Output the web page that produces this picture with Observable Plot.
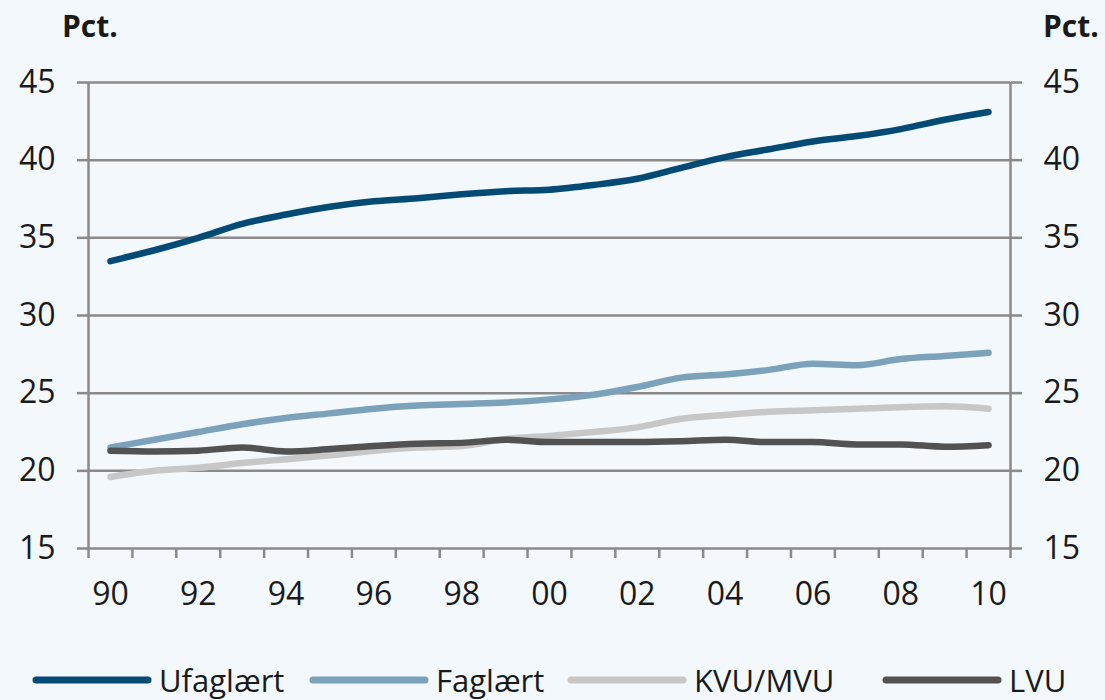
<!DOCTYPE html>
<html>
<head>
<meta charset="utf-8">
<script src="https://cdn.jsdelivr.net/npm/d3@7"></script>
<script src="https://cdn.jsdelivr.net/npm/@observablehq/plot@0.6"></script>
<style>
  html, body { margin: 0; padding: 0; background: #F3F8FD; }
  #wrap { position: relative; width: 1105px; height: 700px; overflow: hidden; font-family: "Open Sans", sans-serif; color: #1a1a1a; }
  #chart { position: absolute; left: 0; top: 0; }
  .pct { position: absolute; top: 6px; font-weight: bold; font-size: 30px; line-height: 40px; }
  .item { position: absolute; top: 663px; height: 34px; display: flex; align-items: center; font-size: 31px; line-height: 34px; white-space: nowrap; }
  .item svg { margin-right: 6px; }
</style>
</head>
<body>
<div id="wrap">
  <div id="chart"></div>
  <div class="pct" style="left:62px;">Pct.</div>
  <div class="pct" style="left:1043px;">Pct.</div>
</div>
<script>
const years = [1990,1991,1992,1993,1994,1995,1996,1997,1998,1999,2000,2001,2002,2003,2004,2005,2006,2007,2008,2009,2010];
const ufaglaert = [33.5,34.2,35.0,35.9,36.5,37.0,37.35,37.55,37.8,38.0,38.1,38.4,38.8,39.5,40.2,40.7,41.2,41.55,42.0,42.6,43.1];
const faglaert  = [21.5,22.0,22.5,23.0,23.4,23.7,24.0,24.2,24.3,24.4,24.6,24.9,25.4,26.0,26.2,26.5,26.9,26.8,27.2,27.4,27.6];
const kvumvu    = [19.6,20.0,20.2,20.5,20.75,21.0,21.3,21.5,21.6,22.05,22.25,22.5,22.8,23.35,23.6,23.8,23.9,24.0,24.1,24.15,24.0];
const lvu       = [21.3,21.25,21.3,21.5,21.25,21.4,21.6,21.75,21.8,22.0,21.85,21.85,21.85,21.9,22.0,21.85,21.85,21.7,21.7,21.55,21.65];

const seriesNames = ["Ufaglært","Faglært","KVU/MVU","LVU"];
const seriesColors = ["#034A75","#7BA2BA","#C7C7C7","#525252"];
const seriesValues = [ufaglaert, faglaert, kvumvu, lvu];

const yTicks = [15,20,25,30,35,40,45];
const xLabelYears = [1990,1992,1994,1996,1998,2000,2002,2004,2006,2008,2010];
const xLabels = ["90","92","94","96","98","00","02","04","06","08","10"];
const xTickBounds = [1989.5,1990.5,1991.5,1992.5,1993.5,1994.5,1995.5,1996.5,1997.5,1998.5,1999.5,2000.5,2001.5,2002.5,2003.5,2004.5,2005.5,2006.5,2007.5,2008.5,2009.5,2010.5];

const rows = [];
seriesNames.forEach((name, i) => {
  years.forEach((yr, j) => rows.push({series: name, year: yr, value: seriesValues[i][j]}));
});

const gray = "#8a8a8a";
const chart = Plot.plot({
  width: 1105,
  height: 630,
  marginTop: 82,
  marginBottom: 82,
  marginLeft: 88,
  marginRight: 95,
  style: {background: "transparent", fontFamily: "Open Sans, sans-serif", fontSize: "32px", color: "#1a1a1a"},
  x: {type: "linear", domain: [1989.5, 2010.5]},
  y: {domain: [15, 45]},
  color: {domain: seriesNames, range: seriesColors},
  marks: [
    Plot.ruleY(yTicks, {stroke: gray, strokeWidth: 2.5}),
    Plot.ruleX([1989.5, 2010.5], {stroke: gray, strokeWidth: 2.5}),
    Plot.axisY({anchor: "left", ticks: yTicks, tickSize: 11, tickPadding: 22, stroke: gray, strokeWidth: 2.5, label: null, fontSize: 32}),
    Plot.axisY({anchor: "right", ticks: yTicks, tickSize: 11, tickPadding: 22, stroke: gray, strokeWidth: 2.5, label: null, fontSize: 32}),
    Plot.axisX({anchor: "bottom", ticks: xTickBounds, tickSize: 10, stroke: gray, strokeWidth: 2.5, tickFormat: () => "", label: null}),
    Plot.axisX({anchor: "bottom", ticks: xLabelYears, tickSize: 0, tickPadding: 34, label: null, fontSize: 32,
      tickFormat: d => xLabels[xLabelYears.indexOf(d)]}),
    Plot.line(rows, {x: "year", y: "value", z: "series", stroke: "series", strokeWidth: 6.5, curve: "monotone-x", strokeLinecap: "round", strokeLinejoin: "round"})
  ]
});
document.getElementById("chart").appendChild(chart);

const legendLeft = [31, 308, 566, 881];
const wrap = document.getElementById("wrap");
seriesNames.forEach((name, i) => {
  const item = document.createElement("div");
  item.className = "item";
  item.style.left = legendLeft[i] + "px";
  item.innerHTML = `<svg width="122" height="12"><line x1="5" y1="6" x2="117" y2="6" stroke="${seriesColors[i]}" stroke-width="7" stroke-linecap="round"/></svg><span>${name}</span>`;
  wrap.appendChild(item);
});
</script>
</body>
</html>
